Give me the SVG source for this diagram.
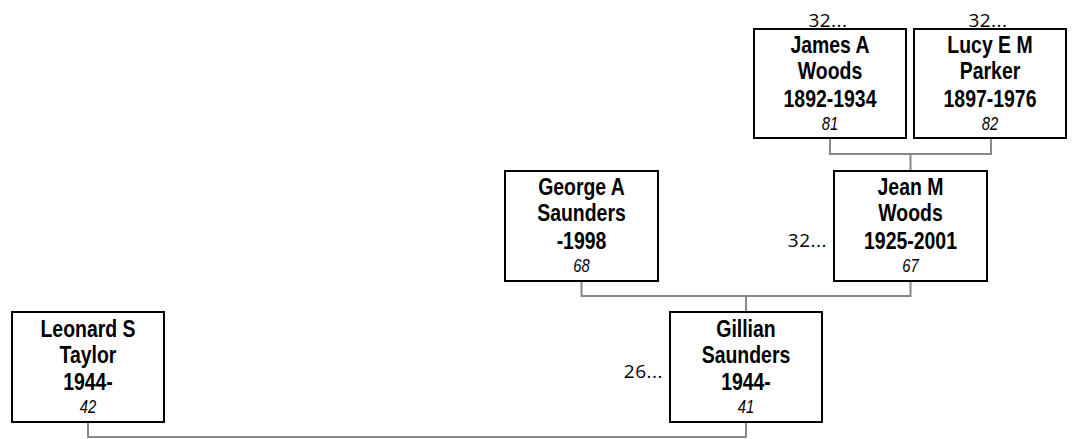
<svg xmlns="http://www.w3.org/2000/svg" width="1073" height="439" viewBox="0 0 1073 439">
<style>
.box{fill:#fff;stroke:#000;stroke-width:2}
.nm{font-family:"Liberation Sans",Arial,sans-serif;font-weight:bold;font-size:23px;text-anchor:middle;fill:#000}
.id{font-family:"Liberation Sans",Arial,sans-serif;font-style:italic;font-size:19px;text-anchor:middle;fill:#000}
.more{font-family:"Open Sans","Liberation Sans",sans-serif;font-size:19px;letter-spacing:0.5px;fill:#000}
.con{fill:none;stroke:#888;stroke-width:2}
</style>
<rect width="1073" height="439" fill="#fff"/>
<g id="connectors">
<path class="con" d="M830,138 V154 H991 V138 M910.5,154 V171"/>
<path class="con" d="M581.5,281 V296 H910.5 V281 M746,296 V312"/>
<path class="con" d="M88,422 V437 H746 V422"/>
</g>
<g id="james">
<text class="more" x="828" y="27" text-anchor="middle">32...</text>
<rect class="box" x="754" y="29" width="152" height="109"/>
<g transform="translate(830,0) scale(0.845,1)">
<text class="nm" x="0" y="53">James A</text>
<text class="nm" x="0" y="79">Woods</text>
<text class="nm" x="0" y="107">1892-1934</text>
</g>
<text class="id" transform="translate(830,0) scale(0.78,1)" x="0" y="130">81</text>
</g>
<g id="lucy">
<text class="more" x="988" y="27" text-anchor="middle">32...</text>
<rect class="box" x="914" y="29" width="152" height="109"/>
<g transform="translate(990,0) scale(0.845,1)">
<text class="nm" x="0" y="53">Lucy E M</text>
<text class="nm" x="0" y="79">Parker</text>
<text class="nm" x="0" y="107">1897-1976</text>
</g>
<text class="id" transform="translate(990,0) scale(0.78,1)" x="0" y="130">82</text>
</g>
<g id="george">
<rect class="box" x="505" y="171" width="153" height="110"/>
<g transform="translate(581.5,0) scale(0.845,1)">
<text class="nm" x="0" y="195">George A</text>
<text class="nm" x="0" y="221">Saunders</text>
<text class="nm" x="0" y="249">-1998</text>
</g>
<text class="id" transform="translate(581.5,0) scale(0.78,1)" x="0" y="272">68</text>
</g>
<g id="jean">
<text class="more" x="827" y="247" text-anchor="end">32...</text>
<rect class="box" x="834" y="171" width="153" height="110"/>
<g transform="translate(910.5,0) scale(0.845,1)">
<text class="nm" x="0" y="195">Jean M</text>
<text class="nm" x="0" y="221">Woods</text>
<text class="nm" x="0" y="249">1925-2001</text>
</g>
<text class="id" transform="translate(910.5,0) scale(0.78,1)" x="0" y="272">67</text>
</g>
<g id="leonard">
<rect class="box" x="12" y="312" width="152" height="110"/>
<g transform="translate(88,0) scale(0.845,1)">
<text class="nm" x="0" y="337">Leonard S</text>
<text class="nm" x="0" y="363">Taylor</text>
<text class="nm" x="0" y="390">1944-</text>
</g>
<text class="id" transform="translate(88,0) scale(0.78,1)" x="0" y="413">42</text>
</g>
<g id="gillian">
<text class="more" x="663" y="378" text-anchor="end">26...</text>
<rect class="box" x="670" y="312" width="152" height="110"/>
<g transform="translate(746,0) scale(0.845,1)">
<text class="nm" x="0" y="337">Gillian</text>
<text class="nm" x="0" y="363">Saunders</text>
<text class="nm" x="0" y="390">1944-</text>
</g>
<text class="id" transform="translate(746,0) scale(0.78,1)" x="0" y="413">41</text>
</g>
</svg>
